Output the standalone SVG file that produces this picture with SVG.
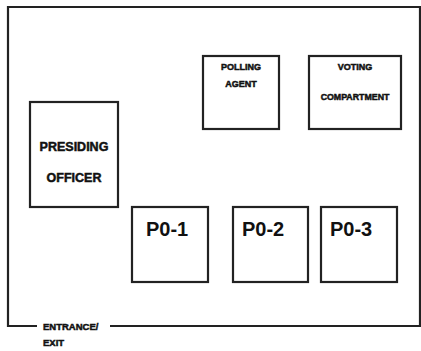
<svg xmlns="http://www.w3.org/2000/svg" width="421" height="351" viewBox="0 0 421 351">
<style>
.box{fill:#fff;stroke:#222;stroke-width:2.2}
.wall{fill:none;stroke:#222;stroke-width:2.2}
.s{font-family:"Liberation Sans",Arial,sans-serif;font-weight:bold;fill:#111;stroke:#111;stroke-width:0.5;text-anchor:middle}
.l{text-anchor:start}
.big{font-family:"Liberation Sans",Arial,sans-serif;font-weight:bold;fill:#111;font-size:20px}
</style>
<rect width="421" height="351" fill="#fff"/>
<g id="room">
<path class="wall" d="M37,326 H8 V7 H420 V326 H110"/>
<text class="s l" x="43" y="330" font-size="9.5" style="text-anchor:start">ENTRANCE/</text>
<text class="s l" x="43" y="346" font-size="9.5" style="text-anchor:start">EXIT</text>
</g>
<g id="polling-agent">
<rect class="box" x="203" y="56" width="76" height="73"/>
<text class="s" x="241" y="70" font-size="9">POLLING</text>
<text class="s" x="241" y="87" font-size="9">AGENT</text>
</g>
<g id="voting-compartment">
<rect class="box" x="309" y="56" width="92" height="73"/>
<text class="s" x="355" y="70" font-size="9">VOTING</text>
<text class="s" x="355" y="100" font-size="8.8">COMPARTMENT</text>
</g>
<g id="presiding-officer">
<rect class="box" x="30" y="102" width="88" height="105"/>
<text class="s" x="74" y="151" font-size="12.5">PRESIDING</text>
<text class="s" x="74" y="182" font-size="12.5">OFFICER</text>
</g>
<g id="po1">
<rect class="box" x="132" y="207" width="76" height="75"/>
<text class="big" x="146" y="236">P0-1</text>
</g>
<g id="po2">
<rect class="box" x="233" y="207" width="75" height="75"/>
<text class="big" x="242" y="236">P0-2</text>
</g>
<g id="po3">
<rect class="box" x="321" y="207" width="76" height="75"/>
<text class="big" x="330" y="236">P0-3</text>
</g>
<g id="connectors"></g>
</svg>
